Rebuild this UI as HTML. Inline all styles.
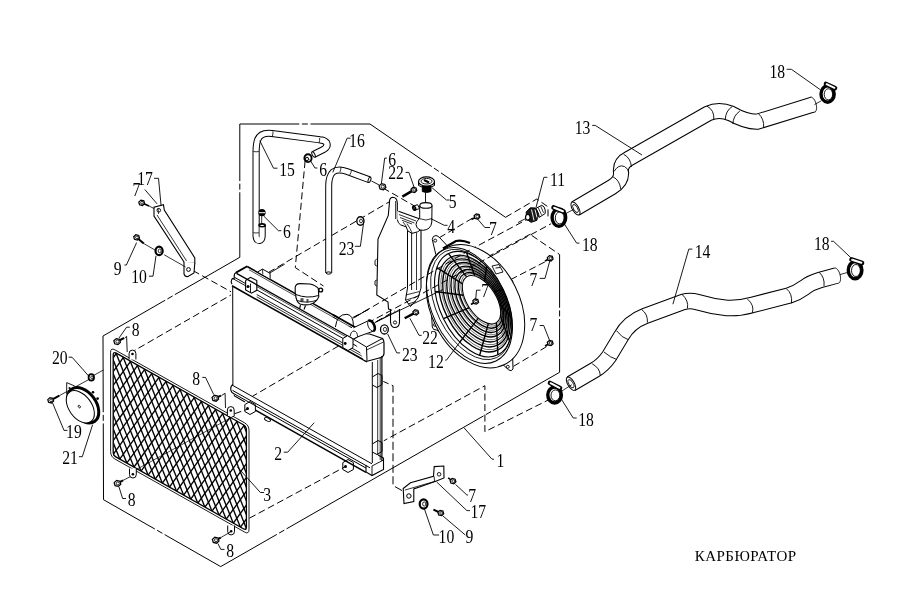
<!DOCTYPE html>
<html><head><meta charset="utf-8"><style>
html,body{margin:0;padding:0;background:#fff;}
svg{display:block;will-change:transform;}
text{font-family:"Liberation Serif",serif;fill:#000;}
</style></head><body>
<svg width="914" height="612" viewBox="0 0 914 612">
<rect width="914" height="612" fill="#fff"/>
<line x1="103.0" y1="336.0" x2="103.23" y2="412.25" stroke="#000" stroke-width="1.0"/>
<line x1="103.24" y1="414.85" x2="103.26" y2="420.85" stroke="#000" stroke-width="1.0"/>
<line x1="103.27" y1="423.45" x2="103.5" y2="499.7" stroke="#000" stroke-width="1.0"/>
<line x1="103.0" y1="336.0" x2="165.18" y2="300.23" stroke="#000" stroke-width="1.0"/>
<line x1="167.43" y1="298.93" x2="172.63" y2="295.94" stroke="#000" stroke-width="1.0"/>
<line x1="174.89" y1="294.64" x2="239.8" y2="257.3" stroke="#000" stroke-width="1.0"/>
<line x1="103.5" y1="499.7" x2="154.89" y2="529.04" stroke="#000" stroke-width="1.0"/>
<line x1="157.15" y1="530.32" x2="162.36" y2="533.3" stroke="#000" stroke-width="1.0"/>
<line x1="164.62" y1="534.59" x2="220.7" y2="566.6" stroke="#000" stroke-width="1.0"/>
<line x1="220.7" y1="566.6" x2="276.84" y2="534.41" stroke="#000" stroke-width="1.0"/>
<line x1="279.1" y1="533.12" x2="284.3" y2="530.13" stroke="#000" stroke-width="1.0"/>
<line x1="286.56" y1="528.84" x2="483.57" y2="415.89" stroke="#000" stroke-width="1.0"/>
<line x1="485.83" y1="414.6" x2="491.03" y2="411.61" stroke="#000" stroke-width="1.0"/>
<line x1="493.29" y1="410.32" x2="559.6" y2="372.3" stroke="#000" stroke-width="1.0"/>
<line x1="239.8" y1="124.0" x2="239.8" y2="181.05" stroke="#000" stroke-width="1.0"/>
<line x1="239.8" y1="183.65" x2="239.8" y2="189.65" stroke="#000" stroke-width="1.0"/>
<line x1="239.8" y1="192.25" x2="239.8" y2="257.3" stroke="#000" stroke-width="1.0"/>
<line x1="239.8" y1="124.0" x2="299.3" y2="124.0" stroke="#000" stroke-width="1.0"/>
<line x1="301.9" y1="124.0" x2="307.9" y2="124.0" stroke="#000" stroke-width="1.0"/>
<line x1="310.5" y1="124.0" x2="370.0" y2="124.0" stroke="#000" stroke-width="1.0"/>
<line x1="370.0" y1="124.0" x2="431.78" y2="166.54" stroke="#000" stroke-width="1.0"/>
<line x1="433.92" y1="168.02" x2="438.87" y2="171.42" stroke="#000" stroke-width="1.0"/>
<line x1="441.01" y1="172.89" x2="505.5" y2="217.3" stroke="#000" stroke-width="1.0"/>
<line x1="559.6" y1="254.5" x2="559.6" y2="307.8" stroke="#000" stroke-width="1.0"/>
<line x1="559.6" y1="310.4" x2="559.6" y2="316.4" stroke="#000" stroke-width="1.0"/>
<line x1="559.6" y1="319.0" x2="559.6" y2="372.3" stroke="#000" stroke-width="1.0"/>
<polyline points="505.5,217.3 536.8,199 548,206.8 548,220" fill="none" stroke="#000" stroke-width="1.0" stroke-dasharray="7,3.5" stroke-dashoffset="0"/>
<polyline points="469.6,250.1 526.3,219.8" fill="none" stroke="#000" stroke-width="1.0" stroke-dasharray="7,3.5" stroke-dashoffset="0"/>
<polyline points="493.7,254.8 551.1,223.7" fill="none" stroke="#000" stroke-width="1.0" stroke-dasharray="7,3.5" stroke-dashoffset="0"/>
<polyline points="478,262 530.3,234.2" fill="none" stroke="#000" stroke-width="1.0" stroke-dasharray="7,3.5" stroke-dashoffset="0"/>
<polyline points="531.7,235.4 559.6,254.5" fill="none" stroke="#000" stroke-width="1.0" stroke-dasharray="7,3.5" stroke-dashoffset="0"/>
<polyline points="439.3,237.7 475,216.7" fill="none" stroke="#000" stroke-width="1.0" stroke-dasharray="7,3.5" stroke-dashoffset="0"/>
<polyline points="510.7,279.6 551.1,258.7" fill="none" stroke="#000" stroke-width="1.0" stroke-dasharray="7,3.5" stroke-dashoffset="0"/>
<polyline points="513.5,366.3 549.8,344.7" fill="none" stroke="#000" stroke-width="1.0" stroke-dasharray="7,3.5" stroke-dashoffset="0"/>
<polyline points="381.2,442.2 484.9,385.7 484.9,431.7 550.5,398.9" fill="none" stroke="#000" stroke-width="1.0" stroke-dasharray="7,3.5" stroke-dashoffset="0"/>
<polyline points="381.2,380.5 393,385.7 393,485.5 402.2,490.7" fill="none" stroke="#000" stroke-width="1.0" stroke-dasharray="8,3.5" stroke-dashoffset="0"/>
<polyline points="129.4,353.4 234.4,293" fill="none" stroke="#000" stroke-width="1.0" stroke-dasharray="7,3.5" stroke-dashoffset="0"/>
<polyline points="234.6,413.7 247.7,409.2" fill="none" stroke="#000" stroke-width="1.0" stroke-dasharray="7,3.5" stroke-dashoffset="0"/>
<polyline points="133.6,471 234,416" fill="none" stroke="#000" stroke-width="0.7" stroke-dasharray="60,0" stroke-dashoffset="0"/>
<polyline points="249.4,518.2 345,466.8" fill="none" stroke="#000" stroke-width="1.0" stroke-dasharray="7,3.5" stroke-dashoffset="0"/>
<polyline points="193,270.6 231.6,292.1" fill="none" stroke="#000" stroke-width="1.0" stroke-dasharray="7,3.5" stroke-dashoffset="0"/>
<polyline points="268.4,272.5 392.4,200" fill="none" stroke="#000" stroke-width="1.0" stroke-dasharray="7,3.5" stroke-dashoffset="0"/>
<polyline points="305.1,161 295.3,267.6 323.5,286" fill="none" stroke="#000" stroke-width="1.0" stroke-dasharray="7,3.5" stroke-dashoffset="0"/>
<polyline points="383,188 415.5,206.6" fill="none" stroke="#000" stroke-width="1.0" stroke-dasharray="7,3.5" stroke-dashoffset="0"/>
<polyline points="352.6,317.7 369.3,308.9" fill="none" stroke="#000" stroke-width="1.0" stroke-dasharray="7,3.5" stroke-dashoffset="0"/>
<polyline points="376.2,321.7 395,310.9" fill="none" stroke="#000" stroke-width="1.0" stroke-dasharray="7,3.5" stroke-dashoffset="0"/>
<polygon points="231,278 247.2,266.2 363.4,333.4 383,338 384,470 367,475 234,399 231,388" fill="#fff" stroke="none"/>
<line x1="247.2" y1="266.47" x2="363.4" y2="331.89" stroke="#000" stroke-width="1.6"/>
<line x1="249" y1="269.78" x2="352" y2="327.77" stroke="#000" stroke-width="0.7"/>
<line x1="247.2" y1="266.2" x2="236.0" y2="272.6" stroke="#000" stroke-width="1.8"/>
<path d="M236,272.6 Q234,274 234.2,276 L234.3,278.5" fill="none" stroke="#000" stroke-width="1.2" />
<line x1="236.5" y1="273.34" x2="353.5" y2="339.22" stroke="#000" stroke-width="1.3"/>
<line x1="256.7" y1="286.52" x2="353.5" y2="341.02" stroke="#000" stroke-width="0.7"/>
<line x1="235" y1="277.6" x2="245.6" y2="283.57" stroke="#000" stroke-width="1.0"/>
<line x1="256.7" y1="289.82" x2="363" y2="349.66" stroke="#000" stroke-width="1.0"/>
<path d="M234.5,278.3 L231.8,279.2 Q230.5,281.5 232,284.3" fill="none" stroke="#000" stroke-width="1.1" />
<line x1="232" y1="278.11" x2="245.6" y2="285.77" stroke="#000" stroke-width="0.9"/>
<line x1="256.7" y1="294.52" x2="367" y2="356.62" stroke="#000" stroke-width="0.9"/>
<line x1="256.7" y1="296.82" x2="367" y2="358.92" stroke="#000" stroke-width="0.8"/>
<line x1="232" y1="285.81" x2="367" y2="361.82" stroke="#000" stroke-width="1.6"/>
<path d="M257.9,271.8 L262.5,269.1 L270.1,273.3 L270.1,278.7" fill="#fff" stroke="#000" stroke-width="1.0" />
<line x1="262.5" y1="269.1" x2="262.8" y2="274.5" stroke="#000" stroke-width="0.8"/>
<line x1="269.3" y1="273.3" x2="284.7" y2="264.1" stroke="#000" stroke-width="0.9"/>
<path d="M335.4,327 Q337,314 346.9,314.3 Q353.5,315 353.4,326.1" fill="#fff" stroke="#000" stroke-width="1.0" />
<line x1="333" y1="314.77" x2="356" y2="327.72" stroke="#000" stroke-width="1.8"/>
<line x1="333" y1="317.07" x2="352" y2="327.77" stroke="#000" stroke-width="0.7"/>
<line x1="353.4" y1="318" x2="368.9" y2="309" stroke="#000" stroke-width="0.9"/>
<path d="M295.2,294 L295.2,287 Q296,283.5 300,283.6 L310,284 Q316,285.5 318.3,288.5 L318.8,296.6 Q317,302 310,304.5 Q305,305.5 300,304 Q296,302 295.6,294 Z" fill="#fff" stroke="#000" stroke-width="1.1" />
<path d="M295.8,294.5 Q307,299 318.6,295.5" fill="none" stroke="#000" stroke-width="1.0" />
<path d="M297.3,300.5 Q307,304 317.3,300" fill="none" stroke="#000" stroke-width="0.9" />
<rect x="300.5" y="298.2" width="3" height="3.4" fill="#000" opacity="0.7"/><rect x="306.5" y="299" width="2" height="3.4" fill="#000" opacity="0.7"/>
<path d="M300.5,305 L299.5,309 M305.5,305.5 L304,309.5" fill="none" stroke="#000" stroke-width="1.1" />
<circle cx="320.7" cy="290" r="1.9" fill="#fff" stroke="#000" stroke-width="1.4"/>
<polyline points="245.6,280.5 250.5,277.3 256.8,280.6 256.8,290.3 251.5,293.2 245.6,290 245.6,280.5" fill="none" stroke="#000" stroke-width="1.1"/>
<line x1="250.5" y1="283.6" x2="250.5" y2="292.6" stroke="#000" stroke-width="0.9"/>
<circle cx="248" cy="286.6" r="1.5" fill="#000"/>
<path d="M353.5,339.2 L363.4,333.5 L369,333.8 L382.5,338.5 Q384,340 384,343 L384,353.5 Q384,356 381,357.5 L368,361 Q366,361.5 364,360.2" fill="#fff" stroke="#000" stroke-width="1.2" />
<path d="M353.5,339.2 L366.5,347 L382.5,338.5" fill="none" stroke="#000" stroke-width="1.0" />
<line x1="366.5" y1="347" x2="367" y2="360.5" stroke="#000" stroke-width="1.0"/>
<path d="M366.5,350 L383.5,342" fill="none" stroke="#000" stroke-width="0.8" />
<polyline points="342.8,338.5 347.5,335.7 353,339 353,347.5 348,350.5 342.8,347.5 342.8,338.5" fill="#fff" stroke="#000" stroke-width="1.0"/>
<circle cx="345.2" cy="343.5" r="1.4" fill="#000"/>
<polyline points="338.7,345.9 252.3,396.4" fill="none" stroke="#000" stroke-width="1.0" stroke-dasharray="7,3.5" stroke-dashoffset="0"/>
<line x1="232.7" y1="287" x2="232.9" y2="385" stroke="#000" stroke-width="1.0"/>
<line x1="372.3" y1="362" x2="372.3" y2="463" stroke="#000" stroke-width="1.0"/>
<line x1="381.9" y1="356" x2="381.9" y2="461" stroke="#000" stroke-width="1.2"/>
<line x1="380.2" y1="357" x2="380.2" y2="460" stroke="#000" stroke-width="0.8"/>
<line x1="377.7" y1="360" x2="377.7" y2="455" stroke="#000" stroke-width="0.8"/>
<polyline points="372.3,377 378,373.5 382,375.5 382,384.5 377,387.5 372.3,385" fill="none" stroke="#000" stroke-width="1.0"/>
<polyline points="372.3,444 378,440.5 382,442.5 382,451.5 377,454.5 372.3,452" fill="none" stroke="#000" stroke-width="1.0"/>
<path d="M232.9,384.6 Q230.5,386 230.7,389.5 Q231,392.5 234.2,394" fill="none" stroke="#000" stroke-width="1.1" />
<line x1="232.1" y1="385.07" x2="372" y2="463.83" stroke="#000" stroke-width="1.0"/>
<line x1="232.5" y1="390.39" x2="370" y2="467.81" stroke="#000" stroke-width="1.0"/>
<line x1="234.2" y1="393.85" x2="366" y2="468.05" stroke="#000" stroke-width="1.0"/>
<polyline points="234.2,394.6 234.5,396 245,402" fill="none" stroke="#000" stroke-width="1.1"/>
<line x1="255.4" y1="410.09" x2="366" y2="472.35" stroke="#000" stroke-width="1.6"/>
<polyline points="244.8,404.6 250,401.5 255.4,404.6 255.4,411.5 250,414.5 244.8,411.5 244.8,404.6" fill="none" stroke="#000" stroke-width="1.0"/>
<circle cx="247.5" cy="408.5" r="1.5" fill="#000"/>
<polyline points="342.8,462.6 348,459.5 353.4,462.6 353.4,469.5 348,472.5 342.8,469.5 342.8,462.6" fill="none" stroke="#000" stroke-width="1.0"/>
<circle cx="345.5" cy="466.5" r="1.5" fill="#000"/>
<ellipse cx="267.5" cy="419.5" rx="3.2" ry="1.6" transform="rotate(25 267.5 419.5)" fill="#fff" stroke="#000" stroke-width="0.9"/>
<path d="M366,465 L366,472 L372,475.5 L383.5,469.5 L383.5,458 L378,455" fill="none" stroke="#000" stroke-width="1.1" />
<line x1="372" y1="466" x2="372" y2="475.5" stroke="#000" stroke-width="0.9"/>
<line x1="372" y1="466" x2="383.5" y2="460" stroke="#000" stroke-width="0.9"/>
<path d="M353.4,327.8 L369,320.4 L374.5,331.5 L357,337.5 Z" fill="#fff" stroke="#000" stroke-width="0" />
<line x1="353.4" y1="327.8" x2="369" y2="320.4" stroke="#000" stroke-width="1.0"/>
<line x1="357" y1="337" x2="373.8" y2="331" stroke="#000" stroke-width="1.0"/>
<ellipse cx="371.20" cy="325.80" rx="3.00" ry="5.60" transform="rotate(-25 371.20 325.80)" fill="#fff" stroke="#000" stroke-width="0.8"/>
<polyline points="368.40,321.02 368.60,320.86 368.82,320.73 369.06,320.64 369.31,320.59 369.58,320.57 369.86,320.59 370.15,320.65 370.45,320.75 370.75,320.88 371.06,321.05 371.36,321.25 371.67,321.49 371.97,321.75 372.27,322.05 372.56,322.37 372.83,322.72 373.10,323.09 373.35,323.48 373.59,323.89 373.81,324.31 374.01,324.74 374.20,325.18 374.36,325.63 374.49,326.07 374.60,326.51 374.69,326.95 374.76,327.38 374.79,327.80 374.80,328.20 374.79,328.59 374.75,328.96 374.68,329.30 374.59,329.62 374.47,329.91 374.33,330.17 374.17,330.40 373.99,330.59 373.78,330.75 373.56,330.88 373.32,330.97" fill="none" stroke="#000" stroke-width="2.6"/>
<path d="M350.1,336.5 Q351,331 354,331 Q357.5,331.5 357.5,336.8" fill="#fff" stroke="#000" stroke-width="0.9" />
<path d="M110.60,352.40 Q110.60,347.40 114.96,349.85 L244.64,422.85 Q249.00,425.30 249.00,430.30 L249.00,529.50 Q249.00,534.50 244.64,532.05 L114.96,459.05 Q110.60,456.60 110.60,451.60 Z" fill="none" stroke="#000" stroke-width="0.9" />
<path d="M113.20,354.96 Q113.20,351.46 116.25,353.18 L243.35,424.72 Q246.40,426.44 246.40,429.94 L246.40,526.94 Q246.40,530.44 243.35,528.72 L116.25,457.18 Q113.20,455.46 113.20,451.96 Z" fill="none" stroke="#000" stroke-width="1.3" />
<clipPath id="gclip"><polygon points="113.30,351.62 246.30,426.48 246.30,530.28 113.30,455.42"/></clipPath>
<g clip-path="url(#gclip)" stroke="#000" stroke-width="1.35"><line x1="110.6" y1="-295.30" x2="249.0" y2="52.08"/><line x1="110.6" y1="-281.50" x2="249.0" y2="65.88"/><line x1="110.6" y1="-267.70" x2="249.0" y2="79.68"/><line x1="110.6" y1="-253.90" x2="249.0" y2="93.48"/><line x1="110.6" y1="-240.10" x2="249.0" y2="107.28"/><line x1="110.6" y1="-226.30" x2="249.0" y2="121.08"/><line x1="110.6" y1="-212.50" x2="249.0" y2="134.88"/><line x1="110.6" y1="-198.70" x2="249.0" y2="148.68"/><line x1="110.6" y1="-184.90" x2="249.0" y2="162.48"/><line x1="110.6" y1="-171.10" x2="249.0" y2="176.28"/><line x1="110.6" y1="-157.30" x2="249.0" y2="190.08"/><line x1="110.6" y1="-143.50" x2="249.0" y2="203.88"/><line x1="110.6" y1="-129.70" x2="249.0" y2="217.68"/><line x1="110.6" y1="-115.90" x2="249.0" y2="231.48"/><line x1="110.6" y1="-102.10" x2="249.0" y2="245.28"/><line x1="110.6" y1="-88.30" x2="249.0" y2="259.08"/><line x1="110.6" y1="-74.50" x2="249.0" y2="272.88"/><line x1="110.6" y1="-60.70" x2="249.0" y2="286.68"/><line x1="110.6" y1="-46.90" x2="249.0" y2="300.48"/><line x1="110.6" y1="-33.10" x2="249.0" y2="314.28"/><line x1="110.6" y1="-19.30" x2="249.0" y2="328.08"/><line x1="110.6" y1="-5.50" x2="249.0" y2="341.88"/><line x1="110.6" y1="8.30" x2="249.0" y2="355.68"/><line x1="110.6" y1="22.10" x2="249.0" y2="369.48"/><line x1="110.6" y1="35.90" x2="249.0" y2="383.28"/><line x1="110.6" y1="49.70" x2="249.0" y2="397.08"/><line x1="110.6" y1="63.50" x2="249.0" y2="410.88"/><line x1="110.6" y1="77.30" x2="249.0" y2="424.68"/><line x1="110.6" y1="91.10" x2="249.0" y2="438.48"/><line x1="110.6" y1="104.90" x2="249.0" y2="452.28"/><line x1="110.6" y1="118.70" x2="249.0" y2="466.08"/><line x1="110.6" y1="132.50" x2="249.0" y2="479.88"/><line x1="110.6" y1="146.30" x2="249.0" y2="493.68"/><line x1="110.6" y1="160.10" x2="249.0" y2="507.48"/><line x1="110.6" y1="173.90" x2="249.0" y2="521.28"/><line x1="110.6" y1="187.70" x2="249.0" y2="535.08"/><line x1="110.6" y1="201.50" x2="249.0" y2="548.88"/><line x1="110.6" y1="215.30" x2="249.0" y2="562.68"/><line x1="110.6" y1="229.10" x2="249.0" y2="576.48"/><line x1="110.6" y1="242.90" x2="249.0" y2="590.28"/><line x1="110.6" y1="256.70" x2="249.0" y2="604.08"/><line x1="110.6" y1="270.50" x2="249.0" y2="617.88"/><line x1="110.6" y1="284.30" x2="249.0" y2="631.68"/><line x1="110.6" y1="298.10" x2="249.0" y2="645.48"/><line x1="110.6" y1="311.90" x2="249.0" y2="659.28"/><line x1="110.6" y1="325.70" x2="249.0" y2="673.08"/><line x1="110.6" y1="339.50" x2="249.0" y2="686.88"/><line x1="110.6" y1="353.30" x2="249.0" y2="700.68"/><line x1="110.6" y1="367.10" x2="249.0" y2="714.48"/><line x1="110.6" y1="380.90" x2="249.0" y2="728.28"/><line x1="110.6" y1="394.70" x2="249.0" y2="742.08"/><line x1="110.6" y1="408.50" x2="249.0" y2="755.88"/><line x1="110.6" y1="422.30" x2="249.0" y2="769.68"/><line x1="110.6" y1="436.10" x2="249.0" y2="783.48"/><line x1="110.6" y1="449.90" x2="249.0" y2="797.28"/><line x1="110.6" y1="463.70" x2="249.0" y2="811.08"/><line x1="110.6" y1="477.50" x2="249.0" y2="824.88"/><line x1="110.6" y1="491.30" x2="249.0" y2="838.68"/><line x1="110.6" y1="505.10" x2="249.0" y2="852.48"/><line x1="110.6" y1="518.90" x2="249.0" y2="866.28"/><line x1="110.6" y1="532.70" x2="249.0" y2="880.08"/><line x1="110.6" y1="546.50" x2="249.0" y2="893.88"/><line x1="110.6" y1="560.30" x2="249.0" y2="907.68"/><line x1="110.6" y1="574.10" x2="249.0" y2="921.48"/><line x1="110.6" y1="587.90" x2="249.0" y2="935.28"/><line x1="110.6" y1="601.70" x2="249.0" y2="949.08"/><line x1="110.6" y1="615.50" x2="249.0" y2="962.88"/><line x1="110.6" y1="629.30" x2="249.0" y2="976.68"/><line x1="110.6" y1="643.10" x2="249.0" y2="990.48"/><line x1="110.6" y1="656.90" x2="249.0" y2="1004.28"/><line x1="110.6" y1="670.70" x2="249.0" y2="1018.08"/><line x1="110.6" y1="684.50" x2="249.0" y2="1031.88"/><line x1="110.6" y1="698.30" x2="249.0" y2="1045.68"/><line x1="110.6" y1="712.10" x2="249.0" y2="1059.48"/><line x1="110.6" y1="725.90" x2="249.0" y2="1073.28"/><line x1="110.6" y1="739.70" x2="249.0" y2="1087.08"/><line x1="110.6" y1="753.50" x2="249.0" y2="1100.88"/><line x1="110.6" y1="767.30" x2="249.0" y2="1114.68"/><line x1="110.6" y1="781.10" x2="249.0" y2="1128.48"/><line x1="110.6" y1="794.90" x2="249.0" y2="1142.28"/><line x1="110.6" y1="16.30" x2="249.0" y2="-174.69"/><line x1="110.6" y1="30.10" x2="249.0" y2="-160.89"/><line x1="110.6" y1="43.90" x2="249.0" y2="-147.09"/><line x1="110.6" y1="57.70" x2="249.0" y2="-133.29"/><line x1="110.6" y1="71.50" x2="249.0" y2="-119.49"/><line x1="110.6" y1="85.30" x2="249.0" y2="-105.69"/><line x1="110.6" y1="99.10" x2="249.0" y2="-91.89"/><line x1="110.6" y1="112.90" x2="249.0" y2="-78.09"/><line x1="110.6" y1="126.70" x2="249.0" y2="-64.29"/><line x1="110.6" y1="140.50" x2="249.0" y2="-50.49"/><line x1="110.6" y1="154.30" x2="249.0" y2="-36.69"/><line x1="110.6" y1="168.10" x2="249.0" y2="-22.89"/><line x1="110.6" y1="181.90" x2="249.0" y2="-9.09"/><line x1="110.6" y1="195.70" x2="249.0" y2="4.71"/><line x1="110.6" y1="209.50" x2="249.0" y2="18.51"/><line x1="110.6" y1="223.30" x2="249.0" y2="32.31"/><line x1="110.6" y1="237.10" x2="249.0" y2="46.11"/><line x1="110.6" y1="250.90" x2="249.0" y2="59.91"/><line x1="110.6" y1="264.70" x2="249.0" y2="73.71"/><line x1="110.6" y1="278.50" x2="249.0" y2="87.51"/><line x1="110.6" y1="292.30" x2="249.0" y2="101.31"/><line x1="110.6" y1="306.10" x2="249.0" y2="115.11"/><line x1="110.6" y1="319.90" x2="249.0" y2="128.91"/><line x1="110.6" y1="333.70" x2="249.0" y2="142.71"/><line x1="110.6" y1="347.50" x2="249.0" y2="156.51"/><line x1="110.6" y1="361.30" x2="249.0" y2="170.31"/><line x1="110.6" y1="375.10" x2="249.0" y2="184.11"/><line x1="110.6" y1="388.90" x2="249.0" y2="197.91"/><line x1="110.6" y1="402.70" x2="249.0" y2="211.71"/><line x1="110.6" y1="416.50" x2="249.0" y2="225.51"/><line x1="110.6" y1="430.30" x2="249.0" y2="239.31"/><line x1="110.6" y1="444.10" x2="249.0" y2="253.11"/><line x1="110.6" y1="457.90" x2="249.0" y2="266.91"/><line x1="110.6" y1="471.70" x2="249.0" y2="280.71"/><line x1="110.6" y1="485.50" x2="249.0" y2="294.51"/><line x1="110.6" y1="499.30" x2="249.0" y2="308.31"/><line x1="110.6" y1="513.10" x2="249.0" y2="322.11"/><line x1="110.6" y1="526.90" x2="249.0" y2="335.91"/><line x1="110.6" y1="540.70" x2="249.0" y2="349.71"/><line x1="110.6" y1="554.50" x2="249.0" y2="363.51"/><line x1="110.6" y1="568.30" x2="249.0" y2="377.31"/><line x1="110.6" y1="582.10" x2="249.0" y2="391.11"/><line x1="110.6" y1="595.90" x2="249.0" y2="404.91"/><line x1="110.6" y1="609.70" x2="249.0" y2="418.71"/><line x1="110.6" y1="623.50" x2="249.0" y2="432.51"/><line x1="110.6" y1="637.30" x2="249.0" y2="446.31"/><line x1="110.6" y1="651.10" x2="249.0" y2="460.11"/><line x1="110.6" y1="664.90" x2="249.0" y2="473.91"/><line x1="110.6" y1="678.70" x2="249.0" y2="487.71"/><line x1="110.6" y1="692.50" x2="249.0" y2="501.51"/><line x1="110.6" y1="706.30" x2="249.0" y2="515.31"/><line x1="110.6" y1="720.10" x2="249.0" y2="529.11"/><line x1="110.6" y1="733.90" x2="249.0" y2="542.91"/><line x1="110.6" y1="747.70" x2="249.0" y2="556.71"/><line x1="110.6" y1="761.50" x2="249.0" y2="570.51"/><line x1="110.6" y1="775.30" x2="249.0" y2="584.31"/><line x1="110.6" y1="789.10" x2="249.0" y2="598.11"/><line x1="110.6" y1="802.90" x2="249.0" y2="611.91"/><line x1="110.6" y1="816.70" x2="249.0" y2="625.71"/><line x1="110.6" y1="830.50" x2="249.0" y2="639.51"/><line x1="110.6" y1="844.30" x2="249.0" y2="653.31"/><line x1="110.6" y1="858.10" x2="249.0" y2="667.11"/><line x1="110.6" y1="871.90" x2="249.0" y2="680.91"/><line x1="110.6" y1="885.70" x2="249.0" y2="694.71"/><line x1="110.6" y1="899.50" x2="249.0" y2="708.51"/><line x1="110.6" y1="913.30" x2="249.0" y2="722.31"/><line x1="110.6" y1="927.10" x2="249.0" y2="736.11"/><line x1="110.6" y1="940.90" x2="249.0" y2="749.91"/><line x1="110.6" y1="954.70" x2="249.0" y2="763.71"/><line x1="110.6" y1="968.50" x2="249.0" y2="777.51"/><line x1="110.6" y1="982.30" x2="249.0" y2="791.31"/><line x1="110.6" y1="996.10" x2="249.0" y2="805.11"/><line x1="110.6" y1="1009.90" x2="249.0" y2="818.91"/><line x1="110.6" y1="1023.70" x2="249.0" y2="832.71"/><line x1="110.6" y1="1037.50" x2="249.0" y2="846.51"/><line x1="110.6" y1="1051.30" x2="249.0" y2="860.31"/><line x1="110.6" y1="1065.10" x2="249.0" y2="874.11"/><line x1="110.6" y1="1078.90" x2="249.0" y2="887.91"/><line x1="110.6" y1="1092.70" x2="249.0" y2="901.71"/><line x1="110.6" y1="1106.50" x2="249.0" y2="915.51"/></g>
<path d="M397.3,219 L397.3,203 Q397,197.3 392.6,197.3 Q389.3,197.8 389.5,202 L388.3,215.4 L378,239 L376.8,295 L388,302 L388.5,309 L390.8,309.5" fill="#fff" stroke="#000" stroke-width="1.1" />
<path d="M389,214 L385,221" fill="none" stroke="#000" stroke-width="0" />
<path d="M397.3,211 L419.5,218.7 L421,231 L421,289 L418,296 L416,304 L409,310 L405,309 L404,288 L399,283 L397.3,220 Z" fill="#fff" stroke="#000" stroke-width="0" />
<line x1="395.6" y1="201" x2="395.6" y2="219" stroke="#000" stroke-width="0.8"/>
<line x1="398.5" y1="211.3" x2="419.3" y2="218.7" stroke="#000" stroke-width="1.1"/>
<path d="M398.9,214.5 L416,221 M400,217.5 L414.5,223 M402,220.3 L412,224" fill="none" stroke="#000" stroke-width="0.8" />
<path d="M397.3,219.5 Q398,223.5 400.5,224.8 L406.2,226.9 L407.9,231 L412,233.4 L417.7,231.8 L421,229.5" fill="none" stroke="#000" stroke-width="1.0" />
<path d="M403,222 L406.5,226.5 M407,223.5 L410,228.5 L412,233" fill="none" stroke="#000" stroke-width="0.8" />
<line x1="407.5" y1="231" x2="407.5" y2="288" stroke="#000" stroke-width="1.0"/>
<line x1="411.6" y1="233" x2="411.6" y2="290" stroke="#000" stroke-width="0.9"/>
<line x1="416.5" y1="232.5" x2="416.5" y2="290" stroke="#000" stroke-width="0.8"/>
<line x1="421" y1="230" x2="421" y2="288" stroke="#000" stroke-width="1.1"/>
<path d="M407.5,288 L405.5,300 L410.5,306.5" fill="none" stroke="#000" stroke-width="1.0" />
<path d="M421,288 L418,298 L410.5,306.5" fill="none" stroke="#000" stroke-width="1.0" />
<path d="M405.8,295 L419.5,291.5" fill="none" stroke="#000" stroke-width="0.8" />
<path d="M406,300 L417.5,296.5" fill="none" stroke="#000" stroke-width="0.8" />
<path d="M408,304 L416,301.5" fill="none" stroke="#000" stroke-width="0.8" />
<polyline points="376.8,259 375,260.5 375,265 376.8,266" fill="none" stroke="#000" stroke-width="0.9"/>
<polyline points="376.8,280 375,281 375,285 376.8,286" fill="none" stroke="#000" stroke-width="0.9"/>
<path d="M390.5,309 L390.5,322 Q391,327.5 395,327.5 Q399.5,327 399.5,322 L399.5,309" fill="none" stroke="#000" stroke-width="1.1" />
<circle cx="395" cy="322.5" r="1.6" fill="none" stroke="#000" stroke-width="0.9"/>
<path d="M419.7,205.5 L419.7,218.5 Q416,221 416,224.5 Q417,230.5 423.5,230.3 Q431,229.5 431.8,222 L432,205.5" fill="#fff" stroke="#000" stroke-width="1.0" />
<ellipse cx="425.90" cy="205.40" rx="6.10" ry="2.80" transform="rotate(0 425.90 205.40)" fill="#fff" stroke="#000" stroke-width="1.1"/>
<path d="M419.7,218.7 Q426,221.5 432,218.5" fill="none" stroke="#000" stroke-width="0.8" />
<line x1="425.5" y1="192.5" x2="425.5" y2="203" stroke="#000" stroke-width="0.9"/>
<path d="M413.2,206.3 L417.5,204.6 L419.5,208.5 L415.2,210.2 Z" fill="#fff" stroke="#000" stroke-width="1.0" />
<ellipse cx="414.20" cy="208.20" rx="1.30" ry="2.00" transform="rotate(-25 414.20 208.20)" fill="none" stroke="#000" stroke-width="1.6"/>
<path d="M422.3,186 L422.3,191.5 Q426.5,193.5 431,191.5 L431,186" fill="#000" stroke="#000" stroke-width="1.0" />
<ellipse cx="426.50" cy="181.50" rx="8.00" ry="4.60" transform="rotate(0 426.50 181.50)" fill="#fff" stroke="#000" stroke-width="1.2"/>
<ellipse cx="426.50" cy="181.20" rx="5.50" ry="2.80" transform="rotate(0 426.50 181.20)" fill="none" stroke="#000" stroke-width="0.9"/>
<path d="M424,180 L429,182.5" fill="none" stroke="#000" stroke-width="2.0" />
<path d="M418.5,182 L418.5,185.5 Q426.5,190 434.5,185.5 L434.5,182" fill="none" stroke="#000" stroke-width="1.0" />
<path d="M435.8,254.5 L432.3,239.5 Q432.5,235.5 436,235.5 Q438,235.8 440,238 L447,245.5" fill="#fff" stroke="#000" stroke-width="1.0" />
<circle cx="435.2" cy="240.6" r="1.5" fill="none" stroke="#000" stroke-width="0.9"/>
<path d="M501.5,272.5 L510.5,278.5 Q513.8,281 512.8,284 L510,297.5" fill="#fff" stroke="#000" stroke-width="1.0" />
<circle cx="508.2" cy="283" r="1.5" fill="none" stroke="#000" stroke-width="0.9"/>
<path d="M499,361 L508.5,369.8 Q511.5,372 513,369 L512.5,351" fill="#fff" stroke="#000" stroke-width="1.0" />
<circle cx="507.8" cy="366.8" r="1.5" fill="none" stroke="#000" stroke-width="0.9"/>
<path d="M431.5,314 L432.3,327 Q433,330.5 436.5,330 L441.5,333" fill="#fff" stroke="#000" stroke-width="1.0" />
<circle cx="435" cy="324.8" r="1.5" fill="none" stroke="#000" stroke-width="0.9"/>
<ellipse cx="475.50" cy="306.20" rx="65.20" ry="44.30" transform="rotate(63.5 475.50 306.20)" fill="#fff" stroke="#000" stroke-width="1.0"/>
<ellipse cx="469.50" cy="305.50" rx="61.50" ry="37.50" transform="rotate(64.5 469.50 305.50)" fill="none" stroke="#000" stroke-width="1.0"/>
<ellipse cx="471.00" cy="304.50" rx="59.00" ry="34.50" transform="rotate(64 471.00 304.50)" fill="none" stroke="#000" stroke-width="0.8"/>
<ellipse cx="473.20" cy="304.20" rx="56.30" ry="33.10" transform="rotate(64.0 473.20 304.20)" fill="none" stroke="#000" stroke-width="1.1"/>
<ellipse cx="474.44" cy="303.54" rx="51.95" ry="30.31" transform="rotate(62.95 474.44 303.54)" fill="none" stroke="#000" stroke-width="1.35"/>
<ellipse cx="475.05" cy="303.14" rx="50.25" ry="28.61" transform="rotate(62.95 475.05 303.14)" fill="none" stroke="#000" stroke-width="0.5"/>
<ellipse cx="475.69" cy="302.88" rx="47.60" ry="27.52" transform="rotate(61.9 475.69 302.88)" fill="none" stroke="#000" stroke-width="1.35"/>
<ellipse cx="476.29" cy="302.48" rx="45.90" ry="25.82" transform="rotate(61.9 476.29 302.48)" fill="none" stroke="#000" stroke-width="0.5"/>
<ellipse cx="476.94" cy="302.22" rx="43.25" ry="24.73" transform="rotate(60.85 476.94 302.22)" fill="none" stroke="#000" stroke-width="1.35"/>
<ellipse cx="477.54" cy="301.82" rx="41.55" ry="23.03" transform="rotate(60.85 477.54 301.82)" fill="none" stroke="#000" stroke-width="0.5"/>
<ellipse cx="478.18" cy="301.56" rx="38.90" ry="21.94" transform="rotate(59.8 478.18 301.56)" fill="none" stroke="#000" stroke-width="1.35"/>
<ellipse cx="478.78" cy="301.16" rx="37.20" ry="20.24" transform="rotate(59.8 478.78 301.16)" fill="none" stroke="#000" stroke-width="0.5"/>
<ellipse cx="479.34" cy="300.94" rx="34.84" ry="19.34" transform="rotate(58.82 479.34 300.94)" fill="none" stroke="#000" stroke-width="1.35"/>
<ellipse cx="479.94" cy="300.54" rx="33.14" ry="17.64" transform="rotate(58.82 479.94 300.54)" fill="none" stroke="#000" stroke-width="0.5"/>
<ellipse cx="480.42" cy="300.37" rx="31.07" ry="16.92" transform="rotate(57.91 480.42 300.37)" fill="none" stroke="#000" stroke-width="1.35"/>
<ellipse cx="481.02" cy="299.97" rx="29.37" ry="15.22" transform="rotate(57.91 481.02 299.97)" fill="none" stroke="#000" stroke-width="0.5"/>
<line x1="496.37" y1="322.7" x2="497.88" y2="354.8" stroke="#000" stroke-width="1.4"/>
<line x1="488.3" y1="323.58" x2="479.7" y2="355.28" stroke="#000" stroke-width="1.4"/>
<line x1="478.4" y1="318.09" x2="459.78" y2="342.07" stroke="#000" stroke-width="1.4"/>
<line x1="469.34" y1="307.7" x2="443.45" y2="318.71" stroke="#000" stroke-width="1.4"/>
<line x1="463.53" y1="295.19" x2="435.1" y2="291.47" stroke="#000" stroke-width="1.4"/>
<line x1="462.54" y1="283.92" x2="436.95" y2="267.63" stroke="#000" stroke-width="1.4"/>
<line x1="466.63" y1="276.9" x2="448.52" y2="253.6" stroke="#000" stroke-width="1.4"/>
<line x1="474.7" y1="276.02" x2="466.7" y2="253.12" stroke="#000" stroke-width="1.4"/>
<line x1="484.6" y1="281.51" x2="486.62" y2="266.33" stroke="#000" stroke-width="1.4"/>
<line x1="493.66" y1="291.9" x2="502.95" y2="289.69" stroke="#000" stroke-width="1.4"/>
<line x1="499.47" y1="304.41" x2="511.3" y2="316.93" stroke="#000" stroke-width="1.4"/>
<line x1="500.46" y1="315.68" x2="509.45" y2="340.77" stroke="#000" stroke-width="1.4"/>
<ellipse cx="481.50" cy="299.80" rx="27.30" ry="14.50" transform="rotate(57 481.50 299.80)" fill="#fff" stroke="#000" stroke-width="1.1"/>
<path d="M443,248.5 L456,241 Q462,239.5 470,243" fill="none" stroke="#000" stroke-width="2.2" />
<path d="M492,266 L499,264.5 L503,272 L496,274 Z" fill="#fff" stroke="#000" stroke-width="0.9" />
<path d="M495.5,268 L500,267.5" fill="none" stroke="#000" stroke-width="0.9" />
<polyline points="469.6,250.1 355,317" fill="none" stroke="#000" stroke-width="1.0" stroke-dasharray="7,3.5" stroke-dashoffset="0"/>
<line x1="375.5" y1="322" x2="443" y2="289.5" stroke="#000" stroke-width="0.9"/>
<polyline points="493.7,254.8 372,320.7" fill="none" stroke="#000" stroke-width="1.0" stroke-dasharray="7,3.5" stroke-dashoffset="0"/>
<path d="M575.5,208.5 L612,187 Q622,181 621,172 Q620,163 629,158.5 L708,113.5 Q719,108.5 731,113.5 Q745,121.5 757,121.8 L813,104.5" fill="none" stroke="#000" stroke-width="16.00" stroke-linejoin="round" stroke-linecap="butt"/>
<path d="M575.5,208.5 L612,187 Q622,181 621,172 Q620,163 629,158.5 L708,113.5 Q719,108.5 731,113.5 Q745,121.5 757,121.8 L813,104.5" fill="none" stroke="#fff" stroke-width="14.00" stroke-linejoin="round" stroke-linecap="butt"/>
<ellipse cx="575.50" cy="208.50" rx="3.19" ry="7.25" transform="rotate(149.88626684901757 575.50 208.50)" fill="#fff" stroke="#000" stroke-width="1.0"/>
<ellipse cx="575.50" cy="208.50" rx="1.98" ry="4.50" transform="rotate(149.88626684901757 575.50 208.50)" fill="none" stroke="#000" stroke-width="0.8"/>
<ellipse cx="812.50" cy="104.60" rx="3.62" ry="7.25" transform="rotate(-16.17 812.50 104.60)" fill="#fff" stroke="none"/>
<polyline points="810.34,97.16 810.62,97.10 810.91,97.09 811.21,97.13 811.52,97.21 811.84,97.34 812.16,97.51 812.48,97.73 812.80,97.98 813.12,98.28 813.44,98.62 813.75,99.00 814.05,99.41 814.34,99.85 814.62,100.32 814.89,100.82 815.14,101.34 815.38,101.88 815.60,102.44 815.80,103.01 815.98,103.59 816.14,104.18 816.28,104.77 816.39,105.36 816.48,105.94 816.54,106.52 816.58,107.08 816.60,107.63 816.59,108.16 816.55,108.67 816.49,109.15 816.40,109.60 816.29,110.03 816.16,110.42 816.00,110.77 815.83,111.09 815.63,111.37 815.41,111.60 815.18,111.79 814.93,111.94 814.66,112.04" fill="none" stroke="#000" stroke-width="1.0"/>
<path d="M613.1,176.9 Q619.5,180 620.8,189.1" fill="none" stroke="#000" stroke-width="0.9" />
<path d="M614,171.5 Q618.5,164 624.5,166.5 Q628.5,168.5 628.8,173" fill="none" stroke="#000" stroke-width="0.9" />
<path d="M623.7,154.4 Q630.5,157.5 631.5,167" fill="none" stroke="#000" stroke-width="0.9" />
<path d="M706.9,106.1 Q714.5,110 713.8,119.5" fill="none" stroke="#000" stroke-width="0.9" />
<path d="M732.2,106.5 Q725.5,111 725.3,119.5" fill="none" stroke="#000" stroke-width="0.9" />
<path d="M739.8,111.1 Q733,116 732.9,124.1" fill="none" stroke="#000" stroke-width="0.9" />
<path d="M758.2,113.4 Q764.5,119 763.6,127.9" fill="none" stroke="#000" stroke-width="0.9" />
<path d="M571,383.7 L595,369.8 Q603,365 609,356.5 L621,336.5 Q629,322 645,316 L683,302 Q690,300 697,302 Q712,306.5 727,308 Q740,308.5 752,305 L789,295.5 Q797,293 804.5,287.5 Q811,282.5 820,280 L836.5,275.6" fill="none" stroke="#000" stroke-width="16.60" stroke-linejoin="round" stroke-linecap="butt"/>
<path d="M571,383.7 L595,369.8 Q603,365 609,356.5 L621,336.5 Q629,322 645,316 L683,302 Q690,300 697,302 Q712,306.5 727,308 Q740,308.5 752,305 L789,295.5 Q797,293 804.5,287.5 Q811,282.5 820,280 L836.5,275.6" fill="none" stroke="#fff" stroke-width="14.60" stroke-linejoin="round" stroke-linecap="butt"/>
<ellipse cx="571.00" cy="383.70" rx="3.30" ry="7.50" transform="rotate(149.88626684901757 571.00 383.70)" fill="#fff" stroke="#000" stroke-width="1.0"/>
<ellipse cx="571.00" cy="383.70" rx="2.05" ry="4.65" transform="rotate(149.88626684901757 571.00 383.70)" fill="none" stroke="#000" stroke-width="0.8"/>
<ellipse cx="836.50" cy="275.60" rx="3.65" ry="7.30" transform="rotate(-15.11 836.50 275.60)" fill="#fff" stroke="none"/>
<polyline points="834.47,268.07 834.75,268.02 835.04,268.01 835.35,268.06 835.66,268.14 835.97,268.28 836.29,268.46 836.61,268.68 836.93,268.95 837.24,269.26 837.55,269.60 837.86,269.99 838.16,270.40 838.44,270.85 838.72,271.33 838.98,271.84 839.22,272.37 839.45,272.92 839.66,273.48 839.85,274.06 840.02,274.65 840.17,275.24 840.30,275.84 840.40,276.43 840.48,277.02 840.53,277.60 840.56,278.17 840.57,278.72 840.55,279.26 840.50,279.77 840.43,280.25 840.33,280.71 840.22,281.13 840.07,281.52 839.91,281.88 839.73,282.19 839.52,282.47 839.30,282.70 839.06,282.89 838.80,283.03 838.53,283.13" fill="none" stroke="#000" stroke-width="1.0"/>
<path d="M592.2,363.8 Q600,368 600.3,375.6" fill="none" stroke="#000" stroke-width="0.9" />
<path d="M604,352 Q611,358 616.5,359.4" fill="none" stroke="#000" stroke-width="0.9" />
<path d="M616.5,330.7 Q622,338 628.2,339.6" fill="none" stroke="#000" stroke-width="0.9" />
<path d="M641.5,309.4 Q648,314 647.4,322.6" fill="none" stroke="#000" stroke-width="0.9" />
<path d="M681.9,294.2 Q689,300.8 687.4,308.4" fill="none" stroke="#000" stroke-width="0.9" />
<path d="M747.5,299.1 Q754.6,305.2 752.4,312.8" fill="none" stroke="#000" stroke-width="0.9" />
<path d="M786.6,289 Q792.5,293.4 791.5,303.2" fill="none" stroke="#000" stroke-width="0.9" />
<path d="M819.1,272.2 Q825,277.6 824,286" fill="none" stroke="#000" stroke-width="0.9" />
<path d="M313.5,154.5 L323.5,149.5 Q328.5,146.5 326.5,142.5 Q324.5,140 320,139.8 L272,133.5 Q261,132 257.8,139.5 Q256.1,144 256.1,152 L256.1,236 Q256.5,240.5 259.5,240.5 Q262,240 262.1,236 L262.1,225" fill="none" stroke="#000" stroke-width="7.20" stroke-linejoin="round" stroke-linecap="butt"/>
<path d="M313.5,154.5 L323.5,149.5 Q328.5,146.5 326.5,142.5 Q324.5,140 320,139.8 L272,133.5 Q261,132 257.8,139.5 Q256.1,144 256.1,152 L256.1,236 Q256.5,240.5 259.5,240.5 Q262,240 262.1,236 L262.1,225" fill="none" stroke="#fff" stroke-width="5.20" stroke-linejoin="round" stroke-linecap="butt"/>
<path d="M272.25,136.68 Q273.19,134.08 272.95,131.32" fill="none" stroke="#000" stroke-width="0.8" />
<path d="M318.95,143.28 Q319.89,140.68 319.65,137.92" fill="none" stroke="#000" stroke-width="0.8" />
<path d="M253.40,151.50 Q256.10,152.10 258.80,151.50" fill="none" stroke="#000" stroke-width="0.8" />
<path d="M253.40,232.70 Q256.10,233.30 258.80,232.70" fill="none" stroke="#000" stroke-width="0.8" />
<ellipse cx="313.50" cy="154.50" rx="1.32" ry="3.00" transform="rotate(153.434948822922 313.50 154.50)" fill="#fff" stroke="#000" stroke-width="1.0"/>
<ellipse cx="262.10" cy="225.30" rx="3.00" ry="1.40" transform="rotate(0 262.10 225.30)" fill="#fff" stroke="#000" stroke-width="1.6"/>
<path d="M369.5,179.8 L347,171.5 Q338,168.5 333,172 Q328.7,176 328.7,186 L328.7,273" fill="none" stroke="#000" stroke-width="7.00" stroke-linejoin="round" stroke-linecap="butt"/>
<path d="M369.5,179.8 L347,171.5 Q338,168.5 333,172 Q328.7,176 328.7,186 L328.7,273" fill="none" stroke="#fff" stroke-width="5.00" stroke-linejoin="round" stroke-linecap="butt"/>
<ellipse cx="369.50" cy="179.80" rx="1.23" ry="2.80" transform="rotate(20.304473709960437 369.50 179.80)" fill="#fff" stroke="#000" stroke-width="1.0"/>
<path d="M339.89,172.15 Q340.99,169.72 340.91,167.05" fill="none" stroke="#000" stroke-width="0.8" />
<path d="M349.70,175.04 Q351.16,172.81 351.50,170.16" fill="none" stroke="#000" stroke-width="0.8" />
<ellipse cx="328.70" cy="273.00" rx="2.60" ry="1.10" transform="rotate(0 328.70 273.00)" fill="#fff" stroke="#000" stroke-width="1.0"/>
<path d="M129.1,359.5 L129.1,353.5 Q129.1,350.1 132.5,350.1 Q135.9,350.1 135.9,353.5 L135.9,359.5" fill="#fff" stroke="#000" stroke-width="1.0" />
<circle cx="132.5" cy="354.0" r="1.3" fill="#000"/>
<path d="M227.4,416 L227.4,410 Q227.4,406.6 230.8,406.6 Q234.20000000000002,406.6 234.20000000000002,410 L234.20000000000002,416" fill="#fff" stroke="#000" stroke-width="1.0" />
<circle cx="230.8" cy="410.5" r="1.3" fill="#000"/>
<path d="M129.5,468.6 L129.5,474.6 Q129.5,478.0 132.9,478.0 Q136.3,478.0 136.3,474.6 L136.3,468.6" fill="#fff" stroke="#000" stroke-width="1.0" />
<circle cx="132.9" cy="474.3" r="1.3" fill="#000"/>
<path d="M227.7,525.5 L227.7,531.5 Q227.7,534.9 231.1,534.9 Q234.5,534.9 234.5,531.5 L234.5,525.5" fill="#fff" stroke="#000" stroke-width="1.0" />
<circle cx="231.1" cy="531.2" r="1.3" fill="#000"/>
<line x1="117.1" y1="341.6" x2="124" y2="338" stroke="#000" stroke-width="2.0"/>
<polygon points="120.38,342.41 117.98,344.62 114.70,343.81 113.82,340.79 116.22,338.58 119.50,339.39" fill="#fff" stroke="#000" stroke-width="1.25"/>
<circle cx="117.40" cy="341.60" r="1.53" fill="none" stroke="#000" stroke-width="0.8"/>
<polyline points="124.5,338.2 126.6,336.3 127.2,352" fill="none" stroke="#000" stroke-width="0.9"/>
<line x1="215.3" y1="398.2" x2="221" y2="395.7" stroke="#000" stroke-width="2.0"/>
<polygon points="218.58,399.01 216.18,401.22 212.90,400.41 212.02,397.39 214.42,395.18 217.70,395.99" fill="#fff" stroke="#000" stroke-width="1.25"/>
<circle cx="215.60" cy="398.20" r="1.53" fill="none" stroke="#000" stroke-width="0.8"/>
<polyline points="221.5,395.5 225.1,393.3 225.5,408" fill="none" stroke="#000" stroke-width="0.9"/>
<line x1="117.5" y1="483.4" x2="123" y2="480.4" stroke="#000" stroke-width="2.0"/>
<polygon points="120.78,484.21 118.38,486.42 115.10,485.61 114.22,482.59 116.62,480.38 119.90,481.19" fill="#fff" stroke="#000" stroke-width="1.25"/>
<circle cx="117.80" cy="483.40" r="1.53" fill="none" stroke="#000" stroke-width="0.8"/>
<polyline points="123,480.4 130,476.8" fill="none" stroke="#000" stroke-width="0.8"/>
<line x1="215.7" y1="540.2" x2="220.8" y2="537.6" stroke="#000" stroke-width="2.0"/>
<polygon points="218.98,541.01 216.58,543.22 213.30,542.41 212.42,539.39 214.82,537.18 218.10,537.99" fill="#fff" stroke="#000" stroke-width="1.25"/>
<circle cx="216.00" cy="540.20" r="1.53" fill="none" stroke="#000" stroke-width="0.8"/>
<polyline points="220.8,537.6 230.7,531.8" fill="none" stroke="#000" stroke-width="0.8"/>
<ellipse cx="558.9" cy="217.6" rx="6.8" ry="8.6" fill="none" stroke="#000" stroke-width="3.4"/>
<ellipse cx="559.6999999999999" cy="217.9" rx="4.4" ry="6.0" fill="none" stroke="#000" stroke-width="0.9"/>
<path d="M553.5,207.5 L563.5,211.5" stroke="#000" stroke-width="4.6" stroke-linecap="round"/>
<path d="M554.1,207.7 L562.9,211.3" stroke="#fff" stroke-width="2.0" stroke-linecap="round"/>
<line x1="564" y1="214.5" x2="573.7" y2="209.4" stroke="#000" stroke-width="0.8"/>
<ellipse cx="827.6" cy="94" rx="6.6" ry="8.2" fill="none" stroke="#000" stroke-width="3.4"/>
<ellipse cx="828.4" cy="94.3" rx="4.199999999999999" ry="5.6" fill="none" stroke="#000" stroke-width="0.9"/>
<path d="M826,84 L835,88" stroke="#000" stroke-width="4.6" stroke-linecap="round"/>
<path d="M826.6,84.2 L834.4,87.8" stroke="#fff" stroke-width="2.0" stroke-linecap="round"/>
<line x1="814.5" y1="104.5" x2="821" y2="101" stroke="#000" stroke-width="0.8"/>
<ellipse cx="855.1" cy="270.2" rx="6.8" ry="8.6" fill="none" stroke="#000" stroke-width="3.4"/>
<ellipse cx="855.9" cy="270.5" rx="4.4" ry="6.0" fill="none" stroke="#000" stroke-width="0.9"/>
<path d="M851.5,259.5 L862,263" stroke="#000" stroke-width="4.6" stroke-linecap="round"/>
<path d="M852.1,259.7 L861.4,262.8" stroke="#fff" stroke-width="2.0" stroke-linecap="round"/>
<line x1="840" y1="274.6" x2="848.3" y2="272.2" stroke="#000" stroke-width="0.8"/>
<ellipse cx="554.6" cy="395" rx="6.8" ry="8.0" fill="none" stroke="#000" stroke-width="3.4"/>
<ellipse cx="555.4" cy="395.3" rx="4.4" ry="5.4" fill="none" stroke="#000" stroke-width="0.9"/>
<path d="M550,383 L560,388" stroke="#000" stroke-width="4.6" stroke-linecap="round"/>
<path d="M550.6,383.2 L559.4,387.8" stroke="#fff" stroke-width="2.0" stroke-linecap="round"/>
<line x1="561" y1="391.5" x2="571.8" y2="384.7" stroke="#000" stroke-width="0.8"/>
<path d="M535.5,208.5 L541.8,205.3 Q544.5,206 545.2,210 L545.2,213.5 L539,217.5 Z" fill="#fff" stroke="#000" stroke-width="1.0" />
<path d="M538.2,207.5 L541.5,214.8 M540.8,206.3 L543.5,212.8 M536.8,210 L539.5,216.5" fill="none" stroke="#000" stroke-width="0.8" />
<polygon points="526.2,212 530.3,207.8 535.8,208 538.3,213.6 536.8,220.4 531,222.3 526.6,219.2" fill="#1a1a1a" stroke="#000" stroke-width="1"/>
<path d="M531.5,209.5 L534,220.5 M535,209.5 L537,217.5" stroke="#fff" stroke-width="0.9" fill="none"/>
<ellipse cx="527.8" cy="217.3" rx="2.3" ry="2.8" fill="#fff" stroke="#000" stroke-width="1.2"/>
<line x1="518" y1="222.5" x2="525.8" y2="218.5" stroke="#000" stroke-width="0.9"/>
<path d="M154,216 L154,207.2 L163.5,204.8 L164.3,210 L194.8,257.9 L194.8,263 L185,263.5 L154,216 Z" fill="#fff" stroke="#000" stroke-width="1.1" />
<path d="M157,215 L186.6,261 M158,208 L158.5,214" fill="none" stroke="#000" stroke-width="0.8" />
<circle cx="158.8" cy="210.3" r="1.8" fill="none" stroke="#000" stroke-width="0.9"/>
<path d="M184,262 L184,274 Q185,277 188,276.5 L194,273 L194.8,263" fill="#fff" stroke="#000" stroke-width="1.1" />
<circle cx="188.5" cy="269.5" r="1.9" fill="none" stroke="#000" stroke-width="1.0"/>
<line x1="141.7" y1="202.8" x2="149" y2="206" stroke="#000" stroke-width="1.6"/>
<polygon points="144.60,203.51 142.48,205.47 139.58,204.75 138.80,202.09 140.92,200.13 143.82,200.85" fill="#fff" stroke="#000" stroke-width="1.25"/>
<circle cx="142.00" cy="202.80" r="1.35" fill="none" stroke="#000" stroke-width="0.8"/>
<line x1="149" y1="206" x2="154" y2="208.5" stroke="#000" stroke-width="0.8"/>
<line x1="136.6" y1="237.4" x2="143.8" y2="243.6" stroke="#000" stroke-width="2.0"/>
<polygon points="139.50,238.11 137.38,240.07 134.48,239.35 133.70,236.69 135.82,234.73 138.72,235.45" fill="#fff" stroke="#000" stroke-width="1.25"/>
<circle cx="136.90" cy="237.40" r="1.35" fill="none" stroke="#000" stroke-width="0.8"/>
<line x1="143.8" y1="243.6" x2="155" y2="250" stroke="#000" stroke-width="0.8"/>
<ellipse cx="159.1" cy="250.9" rx="3.57" ry="4.20" fill="#fff" stroke="#000" stroke-width="2.2"/>
<ellipse cx="159.7" cy="250.9" rx="1.47" ry="1.89" fill="none" stroke="#000" stroke-width="0.8"/>
<line x1="164.2" y1="254.8" x2="185.6" y2="267" stroke="#000" stroke-width="0.8"/>
<path d="M403.2,488.5 L410.5,482.8 L433.5,476.3 L434.2,466.6 L443.8,466 L444,478 L435.8,481.2 L413.8,489 L413.8,501.5 L404,503.5 Z" fill="#fff" stroke="#000" stroke-width="1.1" />
<path d="M404.8,490.1 L435.8,481.1 M434.2,476.5 L434.5,481" fill="none" stroke="#000" stroke-width="0.8" />
<circle cx="408.9" cy="496" r="2.2" fill="none" stroke="#000" stroke-width="1.0"/>
<circle cx="439.1" cy="474.3" r="1.8" fill="none" stroke="#000" stroke-width="0.9"/>
<line x1="453" y1="481.1" x2="448.1" y2="477.9" stroke="#000" stroke-width="1.6"/>
<polygon points="455.90,481.81 453.78,483.77 450.88,483.05 450.10,480.39 452.22,478.43 455.12,479.15" fill="#fff" stroke="#000" stroke-width="1.25"/>
<circle cx="453.30" cy="481.10" r="1.35" fill="none" stroke="#000" stroke-width="0.8"/>
<ellipse cx="423.6" cy="504" rx="3.91" ry="4.60" fill="#fff" stroke="#000" stroke-width="2.2"/>
<ellipse cx="424.20000000000005" cy="504" rx="1.61" ry="2.07" fill="none" stroke="#000" stroke-width="0.8"/>
<line x1="440.8" y1="513" x2="433.4" y2="509.7" stroke="#000" stroke-width="2.0"/>
<polygon points="443.70,513.71 441.58,515.67 438.68,514.95 437.90,512.29 440.02,510.33 442.92,511.05" fill="#fff" stroke="#000" stroke-width="1.25"/>
<circle cx="441.10" cy="513.00" r="1.35" fill="none" stroke="#000" stroke-width="0.8"/>
<line x1="415.8" y1="312.4" x2="404.7" y2="318.3" stroke="#000" stroke-width="2.4"/>
<polygon points="418.70,313.11 416.58,315.07 413.68,314.35 412.90,311.69 415.02,309.73 417.92,310.45" fill="#fff" stroke="#000" stroke-width="1.25"/>
<circle cx="416.10" cy="312.40" r="1.35" fill="none" stroke="#000" stroke-width="0.8"/>
<ellipse cx="384.4" cy="329.4" rx="3.91" ry="4.60" fill="#fff" stroke="#000" stroke-width="1.3"/>
<ellipse cx="385.0" cy="329.4" rx="1.61" ry="2.07" fill="none" stroke="#000" stroke-width="0.8"/>
<line x1="374.6" y1="322.9" x2="399.4" y2="309.8" stroke="#000" stroke-width="0.8"/>
<ellipse cx="360.4" cy="221" rx="3.57" ry="4.20" fill="#fff" stroke="#000" stroke-width="1.4"/>
<ellipse cx="361.0" cy="221" rx="1.47" ry="1.89" fill="none" stroke="#000" stroke-width="0.8"/>
<ellipse cx="308" cy="158.2" rx="3.6" ry="3.9" fill="#fff" stroke="#000" stroke-width="1.9"/>
<ellipse cx="307" cy="159" rx="1.5" ry="1.8" fill="none" stroke="#000" stroke-width="1.0"/>
<line x1="371.5" y1="181" x2="379.5" y2="185.2" stroke="#000" stroke-width="0.9"/>
<polygon points="385.88,187.53 383.41,189.81 380.03,188.98 379.12,185.87 381.59,183.59 384.97,184.42" fill="#fff" stroke="#000" stroke-width="1.25"/>
<circle cx="382.80" cy="186.70" r="1.57" fill="none" stroke="#000" stroke-width="0.8"/>
<circle cx="262" cy="212.7" r="3.6" fill="#000"/>
<line x1="259" y1="212.7" x2="265" y2="212.7" stroke="#fff" stroke-width="1.0"/>
<line x1="261.7" y1="216" x2="261.7" y2="224" stroke="#000" stroke-width="0.8"/>
<line x1="413.9" y1="189.9" x2="402.4" y2="196.7" stroke="#000" stroke-width="2.6"/>
<polygon points="416.80,190.61 414.68,192.57 411.78,191.85 411.00,189.19 413.12,187.23 416.02,187.95" fill="#fff" stroke="#000" stroke-width="1.25"/>
<circle cx="414.20" cy="189.90" r="1.35" fill="none" stroke="#000" stroke-width="0.8"/>
<line x1="477" y1="216.5" x2="471.5" y2="219.5" stroke="#000" stroke-width="1.6"/>
<polygon points="479.90,217.21 477.78,219.17 474.88,218.45 474.10,215.79 476.22,213.83 479.12,214.55" fill="#fff" stroke="#000" stroke-width="1.25"/>
<circle cx="477.30" cy="216.50" r="1.35" fill="none" stroke="#000" stroke-width="0.8"/>
<line x1="550.2" y1="258.3" x2="545" y2="261" stroke="#000" stroke-width="1.6"/>
<polygon points="553.10,259.01 550.98,260.97 548.08,260.25 547.30,257.59 549.42,255.63 552.32,256.35" fill="#fff" stroke="#000" stroke-width="1.25"/>
<circle cx="550.50" cy="258.30" r="1.35" fill="none" stroke="#000" stroke-width="0.8"/>
<line x1="550.2" y1="343" x2="545" y2="346" stroke="#000" stroke-width="1.6"/>
<polygon points="553.10,343.71 550.98,345.67 548.08,344.95 547.30,342.29 549.42,340.33 552.32,341.05" fill="#fff" stroke="#000" stroke-width="1.25"/>
<circle cx="550.50" cy="343.00" r="1.35" fill="none" stroke="#000" stroke-width="0.8"/>
<line x1="475.7" y1="301.5" x2="471" y2="304.5" stroke="#000" stroke-width="1.6"/>
<polygon points="478.60,302.21 476.48,304.17 473.58,303.45 472.80,300.79 474.92,298.83 477.82,299.55" fill="#fff" stroke="#000" stroke-width="1.25"/>
<circle cx="476.00" cy="301.50" r="1.35" fill="none" stroke="#000" stroke-width="0.8"/>
<path d="M66.7,394 L66.7,382.6 L74.7,386" fill="none" stroke="#000" stroke-width="0.9" />
<ellipse cx="83.20" cy="405.20" rx="19.80" ry="12.80" transform="rotate(54 83.20 405.20)" fill="#fff" stroke="#000" stroke-width="3.0"/>
<ellipse cx="80.30" cy="406.80" rx="18.20" ry="11.30" transform="rotate(54 80.30 406.80)" fill="#fff" stroke="#000" stroke-width="1.0"/>
<ellipse cx="79.30" cy="406.60" rx="1.40" ry="1.00" transform="rotate(54 79.30 406.60)" fill="none" stroke="#000" stroke-width="0.8"/>
<circle cx="93" cy="392.3" r="1.3" fill="#000"/><circle cx="97.6" cy="398.6" r="1.3" fill="#000"/><circle cx="69.5" cy="388" r="1.0" fill="#000"/>
<line x1="59.3" y1="395.7" x2="88.5" y2="379.7" stroke="#000" stroke-width="0.8"/>
<line x1="94.2" y1="375.1" x2="103.4" y2="370" stroke="#000" stroke-width="0.8"/>
<line x1="50.7" y1="400.3" x2="59.3" y2="395.7" stroke="#000" stroke-width="2.0"/>
<polygon points="53.60,401.01 51.48,402.97 48.58,402.25 47.80,399.59 49.92,397.63 52.82,398.35" fill="#fff" stroke="#000" stroke-width="1.25"/>
<circle cx="51.00" cy="400.30" r="1.35" fill="none" stroke="#000" stroke-width="0.8"/>
<ellipse cx="91.3" cy="377.4" rx="2.72" ry="3.20" fill="#fff" stroke="#000" stroke-width="1.8"/>
<ellipse cx="91.89999999999999" cy="377.4" rx="1.12" ry="1.44" fill="none" stroke="#000" stroke-width="0.8"/>
<text transform="translate(769.49,77.70) scale(0.87,1)" font-size="18.0">18</text>
<polyline points="786.7,69.3 791.4,69.3 820,89.5" fill="none" stroke="#000" stroke-width="0.9"/>
<text transform="translate(574.79,133.60) scale(0.87,1)" font-size="18.0">13</text>
<polyline points="592.2,125.4 595.2,125.4 642,155" fill="none" stroke="#000" stroke-width="0.9"/>
<text transform="translate(694.69,257.60) scale(0.87,1)" font-size="18.0">14</text>
<polyline points="692.4,249.1 688.8,249.1 672.9,304.2" fill="none" stroke="#000" stroke-width="0.9"/>
<text transform="translate(549.89,185.60) scale(0.87,1)" font-size="18.0">11</text>
<polyline points="547.4,177.3 543.9,177.3 536.1,207.2" fill="none" stroke="#000" stroke-width="0.9"/>
<text transform="translate(581.99,250.60) scale(0.87,1)" font-size="18.0">18</text>
<polyline points="579.4,243.1 576.6,243.1 564.6,224.3" fill="none" stroke="#000" stroke-width="0.9"/>
<text transform="translate(813.99,249.60) scale(0.87,1)" font-size="18.0">18</text>
<polyline points="831.1,241.3 833.5,241.3 852.2,259" fill="none" stroke="#000" stroke-width="0.9"/>
<text transform="translate(578.19,426.40) scale(0.87,1)" font-size="18.0">18</text>
<polyline points="576.7,418 573.2,418 561.5,399.4" fill="none" stroke="#000" stroke-width="0.9"/>
<text transform="translate(349.09,147.00) scale(0.87,1)" font-size="18.0">16</text>
<polyline points="350.5,138.2 347.2,138.2 332.8,172.4" fill="none" stroke="#000" stroke-width="0.9"/>
<text transform="translate(279.19,175.70) scale(0.87,1)" font-size="18.0">15</text>
<polyline points="277.5,168.2 273.5,168.2 259.8,140.7" fill="none" stroke="#000" stroke-width="0.9"/>
<text transform="translate(319.20,175.70) scale(0.87,1)" font-size="18.0">6</text>
<polyline points="317.4,168 315,168 309.7,159.5" fill="none" stroke="#000" stroke-width="0.9"/>
<text transform="translate(388.30,165.80) scale(0.87,1)" font-size="18.0">6</text>
<polyline points="386.9,158.1 384.7,158.1 381.4,183.4" fill="none" stroke="#000" stroke-width="0.9"/>
<text transform="translate(388.30,179.00) scale(0.87,1)" font-size="18.0">22</text>
<polyline points="405.6,172.4 408.9,172.4 414.4,188" fill="none" stroke="#000" stroke-width="0.9"/>
<text transform="translate(448.76,207.70) scale(0.87,1)" font-size="18.0">5</text>
<polyline points="449.7,200 446.4,200 432.1,187.8" fill="none" stroke="#000" stroke-width="0.9"/>
<text transform="translate(447.19,233.00) scale(0.87,1)" font-size="18.0">4</text>
<polyline points="447.5,225.3 444.2,225.3 431,218.7" fill="none" stroke="#000" stroke-width="0.9"/>
<text transform="translate(283.00,238.40) scale(0.87,1)" font-size="18.0">6</text>
<polyline points="281.3,230.7 278.4,230.7 263.7,216" fill="none" stroke="#000" stroke-width="0.9"/>
<text transform="translate(338.80,255.10) scale(0.87,1)" font-size="18.0">23</text>
<polyline points="354.9,246.3 360.4,246.3 363.7,222" fill="none" stroke="#000" stroke-width="0.9"/>
<text transform="translate(137.29,185.40) scale(0.87,1)" font-size="18.0">17</text>
<polyline points="154,178.3 158.5,178.3 161.1,205.8" fill="none" stroke="#000" stroke-width="0.9"/>
<text transform="translate(132.58,195.60) scale(0.87,1)" font-size="18.0">7</text>
<polyline points="144.8,189.5 157,203.8" fill="none" stroke="#000" stroke-width="0.9"/>
<text transform="translate(113.73,275.20) scale(0.87,1)" font-size="18.0">9</text>
<polyline points="124.4,265 126.4,265 136.6,242.6" fill="none" stroke="#000" stroke-width="0.9"/>
<text transform="translate(131.19,283.40) scale(0.87,1)" font-size="18.0">10</text>
<polyline points="148.9,276.2 153,276.2 156,255.8" fill="none" stroke="#000" stroke-width="0.9"/>
<text transform="translate(422.30,343.80) scale(0.87,1)" font-size="18.0">22</text>
<polyline points="421.7,335.3 419,335.3 409.9,318.3" fill="none" stroke="#000" stroke-width="0.9"/>
<text transform="translate(402.00,361.40) scale(0.87,1)" font-size="18.0">23</text>
<polyline points="400.1,352.9 396.8,352.9 387.7,334" fill="none" stroke="#000" stroke-width="0.9"/>
<text transform="translate(489.08,235.30) scale(0.87,1)" font-size="18.0">7</text>
<polyline points="477,218.3 484.8,227.5 490,227.5" fill="none" stroke="#000" stroke-width="0.9"/>
<text transform="translate(529.58,286.30) scale(0.87,1)" font-size="18.0">7</text>
<polyline points="550.2,259.5 545,278.4 539.7,278.4" fill="none" stroke="#000" stroke-width="0.9"/>
<text transform="translate(481.18,296.70) scale(0.87,1)" font-size="18.0">7</text>
<polyline points="475.7,299.5 476.5,290.2 480.5,290.2" fill="none" stroke="#000" stroke-width="0.9"/>
<text transform="translate(529.58,330.70) scale(0.87,1)" font-size="18.0">7</text>
<polyline points="550.2,342 543.7,325.5 539.7,325.5" fill="none" stroke="#000" stroke-width="0.9"/>
<text transform="translate(428.09,368.00) scale(0.87,1)" font-size="18.0">12</text>
<polyline points="445.2,360.1 446.5,360.1 461.2,340.3" fill="none" stroke="#000" stroke-width="0.9"/>
<text transform="translate(131.87,335.70) scale(0.87,1)" font-size="18.0">8</text>
<polyline points="129.8,327.2 126.6,327.2 119,338" fill="none" stroke="#000" stroke-width="0.9"/>
<text transform="translate(51.90,364.00) scale(0.87,1)" font-size="18.0">20</text>
<polyline points="68.6,357.2 72,357.2 89.2,376.6" fill="none" stroke="#000" stroke-width="0.9"/>
<text transform="translate(192.27,384.70) scale(0.87,1)" font-size="18.0">8</text>
<polyline points="202.3,377.4 205.5,377.4 213.7,394.5" fill="none" stroke="#000" stroke-width="0.9"/>
<text transform="translate(66.09,438.40) scale(0.87,1)" font-size="18.0">19</text>
<polyline points="67.5,430.4 64,430.4 52.6,403" fill="none" stroke="#000" stroke-width="0.9"/>
<text transform="translate(62.20,463.60) scale(0.87,1)" font-size="18.0">21</text>
<polyline points="78.9,456.7 82.3,456.7 92.6,424.7" fill="none" stroke="#000" stroke-width="0.9"/>
<text transform="translate(274.30,460.00) scale(0.87,1)" font-size="18.0">2</text>
<polyline points="283.8,452.2 287.7,452.2 314.2,422.7" fill="none" stroke="#000" stroke-width="0.9"/>
<text transform="translate(263.32,501.10) scale(0.87,1)" font-size="18.0">3</text>
<polyline points="264.1,492.5 260.4,492.5 237.2,466.8" fill="none" stroke="#000" stroke-width="0.9"/>
<text transform="translate(496.59,467.10) scale(0.87,1)" font-size="18.0">1</text>
<polyline points="494,459.2 492,459.2 463.9,427.7" fill="none" stroke="#000" stroke-width="0.9"/>
<text transform="translate(127.87,506.20) scale(0.87,1)" font-size="18.0">8</text>
<polyline points="126,498.5 122.6,498.5 119,487" fill="none" stroke="#000" stroke-width="0.9"/>
<text transform="translate(468.28,501.60) scale(0.87,1)" font-size="18.0">7</text>
<polyline points="468,495 466.9,495 455.5,484.4" fill="none" stroke="#000" stroke-width="0.9"/>
<text transform="translate(470.39,517.90) scale(0.87,1)" font-size="18.0">17</text>
<polyline points="470,510.6 466.9,510.6 436.7,482" fill="none" stroke="#000" stroke-width="0.9"/>
<text transform="translate(438.59,543.20) scale(0.87,1)" font-size="18.0">10</text>
<polyline points="439.1,535 433.4,535 424.4,508.9" fill="none" stroke="#000" stroke-width="0.9"/>
<text transform="translate(465.53,543.20) scale(0.87,1)" font-size="18.0">9</text>
<polyline points="465.3,535 465.3,535 442.4,515.5" fill="none" stroke="#000" stroke-width="0.9"/>
<text transform="translate(226.37,557.10) scale(0.87,1)" font-size="18.0">8</text>
<polyline points="224.5,549.4 220.8,549.4 217.9,543.5" fill="none" stroke="#000" stroke-width="0.9"/>
<text x="694.8" y="560.8" font-size="15" letter-spacing="0.45">КАРБЮРАТОР</text>
</svg></body></html>
